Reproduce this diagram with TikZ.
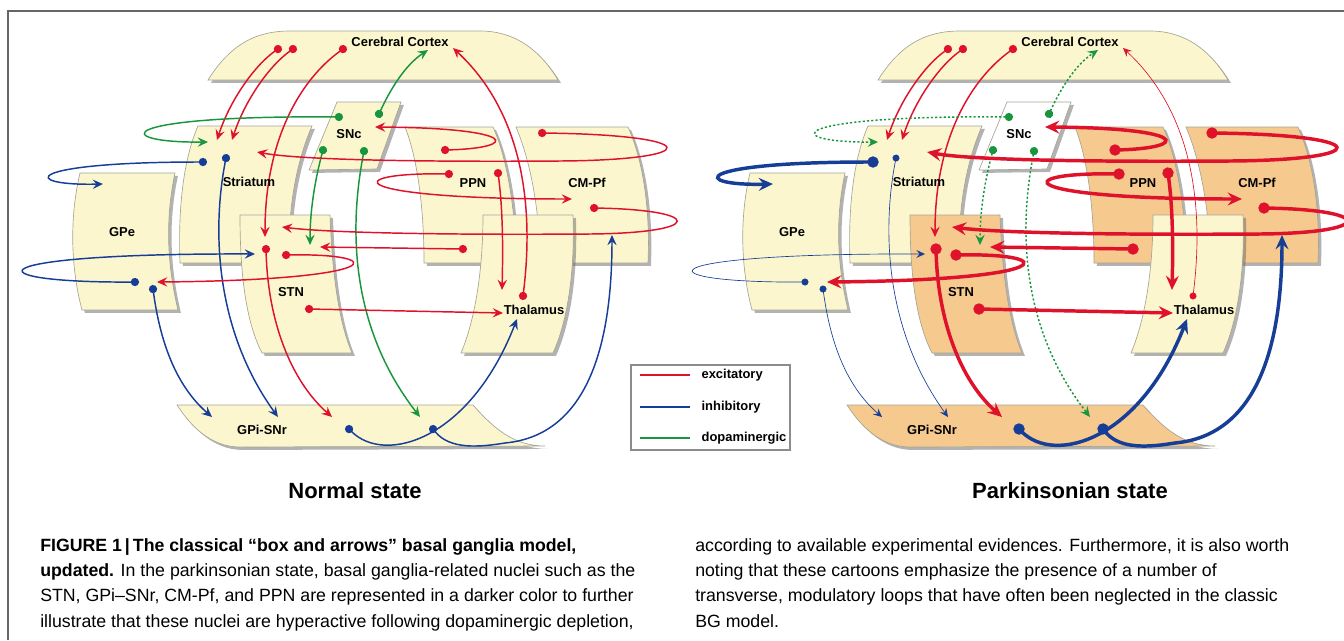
\documentclass[tikz,border=0pt]{standalone}
\usepackage{fontspec}
\setmainfont{Liberation Sans}
\usetikzlibrary{arrows.meta,shadows}

\definecolor{cream}{RGB}{252,246,206}
\definecolor{peach}{RGB}{246,201,143}
\definecolor{excred}{RGB}{222,18,42}
\definecolor{inhblue}{RGB}{22,62,150}
\definecolor{dopgreen}{RGB}{24,150,62}
\definecolor{rim}{RGB}{165,165,150}

\tikzset{
	nucleus/.style={draw=rim, line width=0.5pt, fill=cream,
		drop shadow={shadow xshift=2.2pt, shadow yshift=-2.2pt, fill=black!60, opacity=0.5}},
	hyper/.style={nucleus},
	sncbox/.style={nucleus},
	lab/.style={font=\fontsize{9.7}{11}\selectfont\bfseries, inner sep=1pt},
	link/.style={line width=1.1pt, shorten <=-3pt, {Circle[length=4.5pt 1.5]}-{Stealth[length=5.5pt 2, width=5pt 1.8, inset=2.2pt 0.6]}},
	exc/.style={link, draw=excred},
	inh/.style={link, draw=inhblue},
	dop/.style={link, draw=dopgreen},
	strong/.style={},
	weak/.style={},
	captext/.style={font=\fontsize{13.3}{17}\selectfont, anchor=base west, inner sep=0pt},
}

% one cartoon of the basal ganglia loops
\newcommand{\bgpanel}{%
	% nuclei
	\path[nucleus] (208,80) -- (558,80) .. controls (540,50) and (515,31) .. (480,31) -- (290,31) .. controls (255,31) and (230,45) .. (208,80) -- cycle;
	\path[nucleus] (80,173) -- (175,173) .. controls (166,215) and (166,260) .. (178,310) -- (82,310) .. controls (70,265) and (70,215) .. (80,173) -- cycle;
	\path[nucleus] (198,126) -- (312,126) .. controls (295,165) and (287,215) .. (290,263) -- (180,263) .. controls (178,210) and (183,160) .. (198,126) -- cycle;
	\path[sncbox] (337,102) -- (401,102) -- (377,169) -- (309,170) -- cycle;
	\path[hyper] (405,127) -- (493,127) .. controls (508,160) and (516,215) .. (516,263) -- (424,263) .. controls (424,210) and (418,160) .. (405,127) -- cycle;
	\path[hyper] (516,127) -- (628,127) .. controls (645,165) and (650,215) .. (648,263) -- (540,263) .. controls (540,210) and (530,160) .. (516,127) -- cycle;
	\path[hyper] (240,215) -- (330,215) .. controls (332,270) and (338,320) .. (352,353) -- (262,353) .. controls (245,320) and (240,270) .. (240,215) -- cycle;
	\path[nucleus] (483,215) -- (573,215) .. controls (575,270) and (568,320) .. (553,353) -- (461,353) .. controls (475,320) and (483,270) .. (483,215) -- cycle;
	\path[hyper] (177,405) -- (473,405) .. controls (495,430) and (515,446) .. (545,446) -- (240,447) .. controls (210,447) and (190,425) .. (177,405) -- cycle;

	% cortex and snc
	\draw[exc] (278,49) .. controls (255,65) and (230,100) .. (217,140);
	\draw[exc] (293,49) .. controls (270,65) and (245,100) .. (232,140);
	\draw[exc] (343,49) .. controls (300,80) and (265,140) .. (265,237);
	\draw[dop] (379,114) .. controls (390,90) and (405,65) .. (428,50);
	\draw[dop] (339,117) .. controls (110,115) and (110,143) .. (208,142);
	\draw[dop] (323,150) .. controls (315,180) and (310,210) .. (310,245);
	\draw[dop] (364,151) .. controls (345,250) and (360,340) .. (420,417);

	% ppn and cm-pf
	\draw[exc, strong] (445,150) .. controls (520,148) and (520,128) .. (375,127);
	\draw[exc, strong] (542,133) .. controls (705,135) and (705,160) .. (560,161) .. controls (420,162) and (300,160) .. (257,152);
	\draw[exc, strong] (449,174) .. controls (340,172) and (340,199) .. (572,199);
	\draw[exc, strong] (498,173) .. controls (503,210) and (503,250) .. (502,290);
	\draw[exc, strong] (594,208) .. controls (705,210) and (705,233) .. (590,234) .. controls (450,235) and (330,233) .. (282,227);
	\draw[exc, strong] (463,249) -- (320,247);

	% striatum, gpe and stn
	\draw[inh, strong] (203,162) .. controls (20,162) and (20,186) .. (103,184);
	\draw[inh, weak] (226,158) .. controls (212,230) and (215,330) .. (278,417);
	\draw[inh, weak] (135,282) .. controls (-30,283) and (-30,253) .. (255,254);
	\draw[exc, strong] (286,255) .. controls (390,253) and (390,280) .. (157,282);
	\draw[inh, weak] (153,289) .. controls (160,340) and (175,385) .. (212,417);
	\draw[exc, strong] (266,249) .. controls (268,320) and (290,380) .. (332,417);
	\draw[exc, strong] (309,309) -- (503,313);

	% output side
	\draw[inh, strong] (349,429) .. controls (385,465) and (470,440) .. (517,319);
	\draw[inh, strong] (433,429) .. controls (450,450) and (480,447) .. (505,443) .. controls (590,435) and (612,340) .. (612,235);
	\draw[exc, weak] (523,296) .. controls (535,200) and (520,110) .. (453,48);

	\node[lab] (cortex) at (400,42) {Cerebral Cortex};
	\node[lab] (snc) at (349,134) {SNc};
	\node[lab] (striatum) at (249,182) {Striatum};
	\node[lab] (gpe) at (122,232) {GPe};
	\node[lab] (ppn) at (473,183) {PPN};
	\node[lab] (cmpf) at (587,183) {CM-Pf};
	\node[lab] (stn) at (291,292) {STN};
	\node[lab] (thalamus) at (534,310) {Thalamus};
	\node[lab] (gpi) at (262,430) {GPi-SNr};
}

\begin{document}
\begin{tikzpicture}[x=0.75pt, y=-0.75pt]

	\useasboundingbox (0,0) rectangle (1344,640);
	\draw[black!60, line width=1.1pt] (8,640) -- (8,11) -- (1344,11);

	\begin{scope}[name prefix=n-]
		\bgpanel
	\end{scope}

	\begin{scope}[shift={(670,0)}, name prefix=p-,
		hyper/.style={nucleus, fill=peach},
		sncbox/.style={nucleus, fill=white},
		strong/.style={line width=2.6pt, shorten <=-4.2pt},
		weak/.style={line width=0.5pt, shorten <=-2.6pt},
		dop/.style={link, draw=dopgreen, dash pattern=on 1.6pt off 1.6pt}]
		\bgpanel
	\end{scope}

	% key
	\draw[black!45, line width=0.8pt] (631,365) rectangle (790,450);
	\node[lab, anchor=west] (key-exc) at (700,375) {excitatory};
	\node[lab, anchor=west] (key-inh) at (700,407) {inhibitory};
	\node[lab, anchor=west] (key-dop) at (700,438) {dopaminergic};
	\draw[excred, line width=1.1pt] (640,375) -- (690,375);
	\draw[inhblue, line width=1.1pt] (640,407) -- (690,407);
	\draw[dopgreen, line width=1.1pt] (640,438) -- (690,438);

	\node[font=\fontsize{16.5}{20}\selectfont\bfseries, anchor=base] (normal) at (355,498) {Normal state};
	\node[font=\fontsize{16.5}{20}\selectfont\bfseries, anchor=base] (parkinson) at (1070,498) {Parkinsonian state};

	\node[captext] (cap1) at (40,551) {\bfseries FIGURE 1\,|\,The classical “box and arrows” basal ganglia model,};
	\node[captext] (cap2) at (40,576) {\textbf{updated.} In the parkinsonian state, basal ganglia-related nuclei such as the};
	\node[captext] (cap3) at (40,601.5) {STN, GPi–SNr, CM-Pf, and PPN are represented in a darker color to further};
	\node[captext] (cap4) at (40,627) {illustrate that these nuclei are hyperactive following dopaminergic depletion,};
	\node[captext] (cap5) at (695,551) {according to available experimental evidences. Furthermore, it is also worth};
	\node[captext] (cap6) at (695,576) {noting that these cartoons emphasize the presence of a number of};
	\node[captext] (cap7) at (695,601.5) {transverse, modulatory loops that have often been neglected in the classic};
	\node[captext] (cap8) at (695,627) {BG model.};

\end{tikzpicture}
\end{document}
